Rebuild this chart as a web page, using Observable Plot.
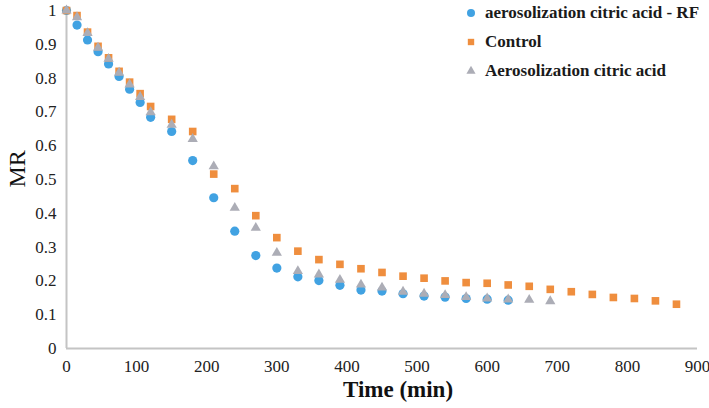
<!DOCTYPE html>
<html><head><meta charset="utf-8">
<script src="https://cdn.jsdelivr.net/npm/d3@7"></script>
<script src="https://cdn.jsdelivr.net/npm/@observablehq/plot@0.6"></script>
<style>
body{margin:0;background:#fff;}
#chart{position:relative;width:709px;height:408px;font-family:"Liberation Serif","Times New Roman",serif;}
#legend{position:absolute;left:464px;top:-2px;}
.row{display:flex;align-items:center;height:29px;font-weight:bold;font-size:17px;color:#1a1a1a;white-space:nowrap;}
.row svg{margin-right:7px;}
</style></head><body><div id="chart"></div>
<script>
const seriesNames = ["aerosolization citric acid - RF", "Control", "Aerosolization citric acid"];
const seriesColors = ["#41a2e2", "#ef8e3e", "#acadb6"];
const seriesSymbols = ["circle", "square", "triangle"];

const timeRF = [0,15,30,45,60,75,90,105,120,150,180,210,240,270,300,330,360,390,420,450,480,510,540,570,600,630];
const mrRF = [1.0,0.957,0.913,0.878,0.842,0.805,0.767,0.728,0.684,0.642,0.556,0.446,0.347,0.275,0.238,0.212,0.201,0.187,0.173,0.170,0.162,0.155,0.152,0.148,0.146,0.143];

const timeControl = [0,15,30,45,60,75,90,105,120,150,180,210,240,270,300,330,360,390,420,450,480,510,540,570,600,630,660,690,720,750,780,810,840,870];
const mrControl = [1.0,0.985,0.936,0.894,0.860,0.820,0.788,0.754,0.716,0.678,0.642,0.516,0.473,0.393,0.328,0.288,0.263,0.249,0.236,0.225,0.214,0.208,0.200,0.195,0.193,0.188,0.184,0.175,0.168,0.160,0.151,0.148,0.141,0.131];

const timeAero = [0,15,30,45,60,75,90,105,120,150,180,210,240,270,300,330,360,390,420,450,480,510,540,570,600,630,660,690];
const mrAero = [1.0,0.980,0.933,0.890,0.857,0.816,0.781,0.744,0.699,0.662,0.620,0.539,0.416,0.357,0.283,0.229,0.219,0.203,0.189,0.180,0.168,0.162,0.158,0.152,0.148,0.145,0.144,0.140];

const xTicks = [0,100,200,300,400,500,600,700,800,900];
const yTicks = [0,0.1,0.2,0.3,0.4,0.5,0.6,0.7,0.8,0.9,1];
const yTickLabels = ["0","0.1","0.2","0.3","0.4","0.5","0.6","0.7","0.8","0.9","1"];
const xTitle = "Time (min)";
const yTitle = "MR";

const series = [
  {name: seriesNames[0], t: timeRF, v: mrRF},
  {name: seriesNames[1], t: timeControl, v: mrControl},
  {name: seriesNames[2], t: timeAero, v: mrAero}
].map((s, i) => ({...s, color: seriesColors[i], symbol: seriesSymbols[i],
  rows: s.t.map((t, j) => ({t, v: s.v[j]}))}));

const dotR = {circle: 4.6, square: 4.3, triangle: 3.8};

const plot = Plot.plot({
  width: 709, height: 408,
  marginLeft: 66, marginRight: 12, marginTop: 10, marginBottom: 60,
  style: {fontFamily: '"Liberation Serif","Times New Roman",serif', fontSize: "17px", color: "#222", background: "#fff"},
  x: {domain: [0, 900]},
  y: {domain: [0, 1]},
  marks: [
    Plot.ruleY([0], {stroke: "#c4c4c4", strokeWidth: 2}),
    Plot.ruleX([0], {stroke: "#c4c4c4", strokeWidth: 2}),
    ...series.map(s => Plot.dot(s.rows, {x: "t", y: "v", symbol: s.symbol, fill: s.color, stroke: "none", r: dotR[s.symbol]})),
    Plot.axisX({ticks: xTicks, tickSize: 0, tickPadding: 11, label: null, tickFormat: d => String(d)}),
    Plot.axisY({ticks: yTicks, tickSize: 0, tickPadding: 10, label: null, tickFormat: (d, i) => yTickLabels[i]}),
    Plot.text([xTitle], {text: d => d, frameAnchor: "bottom", dx: 16, dy: 48, fontSize: 23, fontWeight: "bold", fill: "#111"}),
    Plot.text([yTitle], {text: d => d, frameAnchor: "left", rotate: -90, dx: -49, dy: 8, fontSize: 24, fill: "#111"})
  ]
});

const chart = document.getElementById("chart");
chart.appendChild(plot);

const legend = document.createElement("div");
legend.id = "legend";
const legendR = {circle: 4, square: 3.6, triangle: 3.4};
series.forEach(s => {
  const row = document.createElement("div");
  row.className = "row";
  const sym = d3.symbol(s.symbol === "circle" ? d3.symbolCircle : s.symbol === "square" ? d3.symbolSquare : d3.symbolTriangle,
                        Math.PI * legendR[s.symbol] ** 2)();
  row.innerHTML = `<svg width="14" height="14"><path transform="translate(7,7)" d="${sym}" fill="${s.color}"/></svg><span>${s.name}</span>`;
  legend.appendChild(row);
});
chart.appendChild(legend);
</script>
</body></html>
